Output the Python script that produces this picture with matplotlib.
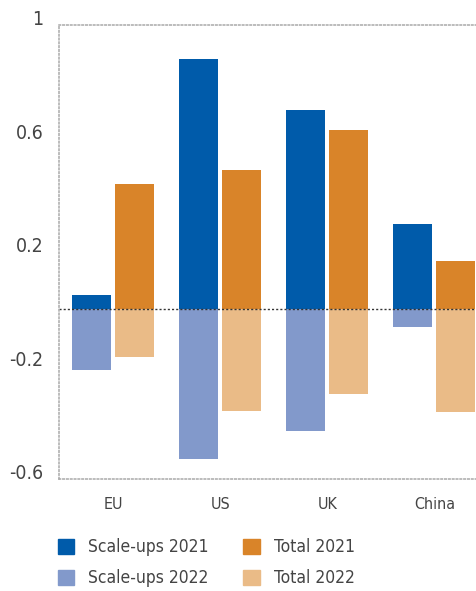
import matplotlib.pyplot as plt
import numpy as np
from matplotlib.patches import Patch

regions = ["EU", "US", "UK", "China"]
scaleups_2021 = [0.05, 0.88, 0.70, 0.30]
total_2021 = [0.44, 0.49, 0.63, 0.17]
scaleups_2022 = [-0.215, -0.53, -0.43, -0.065]
total_2022 = [-0.17, -0.36, -0.30, -0.365]
yticks = [-0.6, -0.2, 0.2, 0.6, 1]
ytick_labels = ["-0.6", "-0.2", "0.2", "0.6", "1"]

c_s21 = "#005BAA"
c_s22 = "#8299CB"
c_t21 = "#D98429"
c_t22 = "#EABB87"
txt = "#444444"

plt.rcParams['font.family'] = ['DejaVu Sans']
plt.rcParams['font.stretch'] = 'condensed'

fig = plt.figure(figsize=(4.77, 5.91), dpi=100)
ax = fig.add_axes([0.1237, 0.1895, 0.8743, 0.7682])

x = np.arange(len(regions))
w = 0.364
off = 0.201
ax.bar(x - off, scaleups_2021, w, color=c_s21)
ax.bar(x - off, scaleups_2022, w, color=c_s22)
ax.bar(x + off, total_2021, w, color=c_t21)
ax.bar(x + off, total_2022, w, color=c_t22)

ax.axhline(0, color="#333333", lw=1, ls=(0, (1.5, 1.5)))
ax.set_xlim(-0.505, 3.39)
ax.set_ylim(-0.6, 1)

for s in ["left", "top", "bottom"]:
    ax.spines[s].set_color("#aaaaaa")
    ax.spines[s].set_linestyle((0, (1, 1.5)))
    ax.spines[s].set_linewidth(1.1)
ax.spines["right"].set_visible(False)

ax.set_yticks(yticks)
ax.set_yticklabels(ytick_labels, fontsize=14, color=txt, va="baseline")
ax.set_xticks(x)
ax.set_xticklabels(regions, fontsize=11.5, color=txt)
ax.tick_params(length=0)
ax.tick_params(axis="y", pad=11)
ax.tick_params(axis="x", pad=13)

handles = [Patch(color=c_s21), Patch(color=c_s22), Patch(color=c_t21), Patch(color=c_t22)]
labels = ["Scale-ups 2021", "Scale-ups 2022", "Total 2021", "Total 2022"]
leg = fig.legend(handles, labels, ncol=2, loc="upper left",
                 bbox_to_anchor=(0.121, 0.089), frameon=False, fontsize=12.5,
                 handlelength=0.95, handleheight=0.95, handletextpad=0.8,
                 columnspacing=2.0, labelspacing=0.75, borderpad=0, borderaxespad=0)
for t in leg.get_texts():
    t.set_color(txt)

fig.savefig("out.png", dpi=100)
